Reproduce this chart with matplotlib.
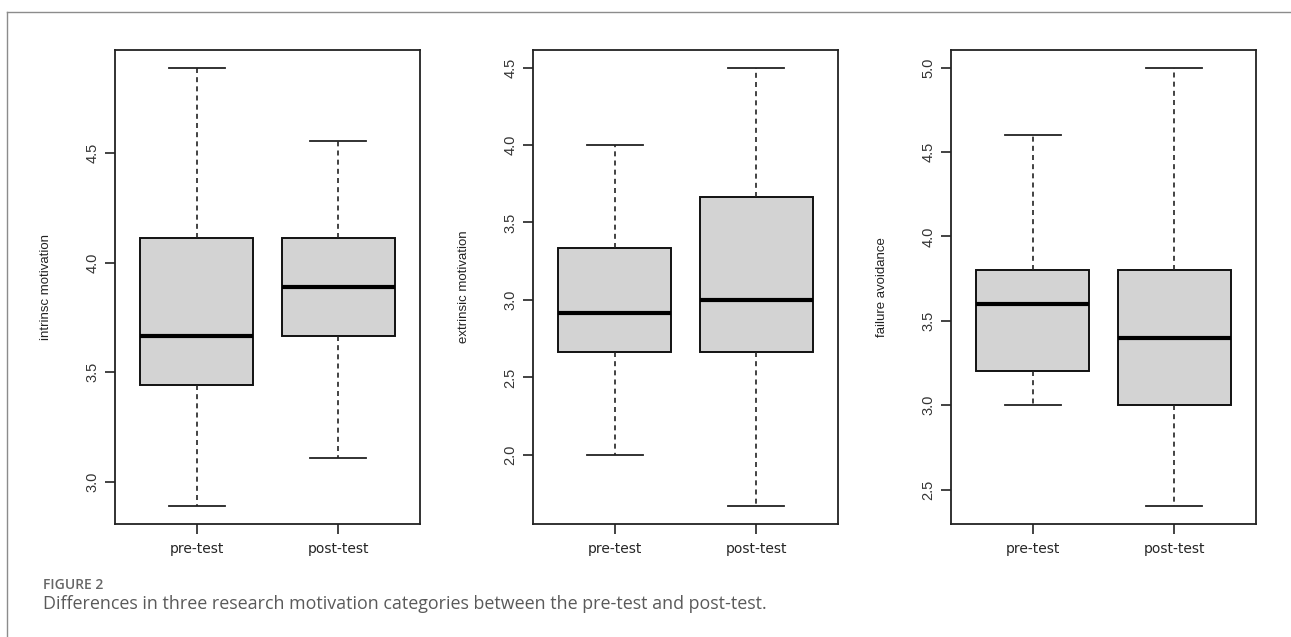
import matplotlib.pyplot as plt
from matplotlib.lines import Line2D
from matplotlib.ticker import MultipleLocator, FormatStrFormatter

# groups on the x axis and y axis titles of the three panels
groups = ["pre-test", "post-test"]
ylabels = ["intrinsc motivation", "extrinsic motivation", "failure avoidance"]

# box summaries: lower whisker, Q1, median, Q3, upper whisker
intrinsic_pre = [2.889, 3.444, 3.667, 4.111, 4.889]
intrinsic_post = [3.111, 3.667, 3.889, 4.111, 4.556]
extrinsic_pre = [2.0, 2.667, 2.917, 3.333, 4.0]
extrinsic_post = [1.667, 2.667, 3.0, 3.667, 4.5]
failure_pre = [3.0, 3.2, 3.6, 3.8, 4.6]
failure_post = [2.4, 3.0, 3.4, 3.8, 5.0]

panels = [
    (intrinsic_pre, intrinsic_post),
    (extrinsic_pre, extrinsic_post),
    (failure_pre, failure_post),
]

caption_head = "FIGURE 2"
caption_text = "Differences in three research motivation categories between the pre-test and post-test."


def to_stats(summary, label):
    lo, q1, med, q3, hi = summary
    return dict(whislo=lo, q1=q1, med=med, q3=q3, whishi=hi, fliers=[], label=label)


fig = plt.figure(figsize=(12.91, 6.37), dpi=100)

axis_col = "#222222"
lefts = [115, 533, 951]   # pixel positions of the panels
for i, (pre, post) in enumerate(panels):
    ax = fig.add_axes([lefts[i] / 1291, 113 / 637, 305 / 1291, 474 / 637])
    stats = [to_stats(pre, groups[0]), to_stats(post, groups[1])]
    ax.bxp(stats, positions=[1, 2], widths=0.8, capwidths=0.4,
           showfliers=False, patch_artist=True,
           boxprops=dict(facecolor="#d3d3d3", edgecolor="#111111", linewidth=1.4),
           medianprops=dict(color="black", linewidth=3.0, solid_capstyle="butt"),
           whiskerprops=dict(color="#222222", linewidth=1.2, linestyle=(0, (3, 2.5))),
           capprops=dict(color="#222222", linewidth=1.3))

    # R style limits: 4% padding around the data range
    lo = min(pre[0], post[0])
    hi = max(pre[4], post[4])
    pad = 0.04 * (hi - lo)
    ax.set_ylim(lo - pad, hi + pad)
    ax.set_xlim(0.42, 2.58)

    ax.yaxis.set_major_locator(MultipleLocator(0.5))
    ax.yaxis.set_major_formatter(FormatStrFormatter("%.1f"))
    ax.tick_params(axis="y", length=7, width=1.2, color=axis_col, pad=4,
                   labelsize=10.5, labelcolor="#333333")
    for lab in ax.get_yticklabels():
        lab.set_rotation(90)
        lab.set_va("center")
        lab.set_family(["Liberation Sans Narrow", "Liberation Sans"])
    ax.tick_params(axis="x", length=7, width=1.2, color=axis_col, pad=6,
                   labelsize=10, labelcolor="#262626")
    for lab in ax.get_xticklabels():
        lab.set_family("DejaVu Sans")

    ax.set_ylabel(ylabels[i], fontsize=9.5, color="#222222",
                  family=["Liberation Sans Narrow", "Liberation Sans"])
    ax.yaxis.set_label_coords(-0.205, 0.5)
    for s in ax.spines.values():
        s.set_color(axis_col)
        s.set_linewidth(1.3)

# outer frame of the figure panel (top and left edges)
fig.add_artist(Line2D([7 / 1291, 1.0], [1 - 12 / 637, 1 - 12 / 637],
                      transform=fig.transFigure, color="#8c8c8c", linewidth=1.0))
fig.add_artist(Line2D([7 / 1291, 7 / 1291], [0.0, 1 - 12 / 637],
                      transform=fig.transFigure, color="#8c8c8c", linewidth=1.0))

fig.text(43 / 1291, (637 - 589) / 637, caption_head, fontsize=10, fontweight="semibold",
         color="#666666", family="Open Sans", va="baseline")
fig.text(43 / 1291, (637 - 609) / 637, caption_text, fontsize=12.9,
         color="#5a5a5a", family="Open Sans", va="baseline")

fig.savefig("out.png", dpi=100)
